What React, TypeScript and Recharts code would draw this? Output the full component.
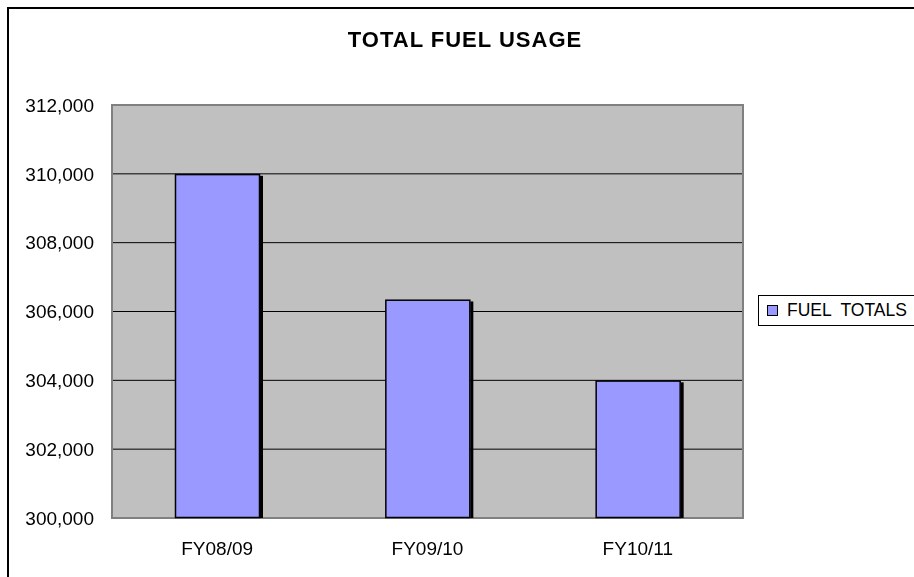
import React from 'react';
import {
  BarChart,
  Bar,
  XAxis,
  YAxis,
  CartesianGrid,
  Legend,
  ReferenceArea
} from 'recharts';

const categories = ['FY08/09', 'FY09/10', 'FY10/11'];
const fuelTotals = [310000, 306350, 304000];
const yTicks = [300000, 302000, 304000, 306000, 308000, 310000, 312000];

const FONT = '"Liberation Sans", Arial, sans-serif';

const chartData = categories.map((name, i) => ({ name, total: fuelTotals[i] }));

// bar with black outline and a heavier shadow on the right, like the old excel look
const BarShape = (props: any) => {
  const { x, y, width, height } = props;
  return (
    <g>
      <rect x={x + width} y={y + 2} width={3} height={height - 2} fill="#000" />
      <rect
        x={x + 0.5}
        y={y + 0.75}
        width={width - 1}
        height={height - 1.25}
        fill="#9999ff"
        stroke="#000"
        strokeWidth={1.5}
      />
    </g>
  );
};

const LegendBox = () => (
  <div
    style={{
      border: '1px solid #000',
      height: 29,
      width: 200,
      minWidth: 200,
      display: 'flex',
      alignItems: 'center',
      fontFamily: FONT,
      fontSize: 17.5,
      color: '#000',
      background: '#fff'
    }}
  >
    <span
      style={{
        display: 'inline-block',
        flexShrink: 0,
        width: 9,
        height: 9,
        background: '#9999ff',
        border: '1px solid #000',
        marginLeft: 8,
        marginRight: 9
      }}
    />
    <span style={{ whiteSpace: 'pre' }}>FUEL  TOTALS</span>
  </div>
);

export default function App() {
  return (
    <div
      style={{
        position: 'fixed',
        left: 7,
        top: 7,
        width: 905,
        height: 568,
        borderLeft: '2px solid #000',
        borderTop: '2px solid #000',
        overflow: 'hidden'
      }}
    >
      <div
        style={{
          position: 'absolute',
          left: 256,
          top: 20,
          width: 400,
          textAlign: 'center',
          fontFamily: FONT,
          fontWeight: 'bold',
          fontSize: 22,
          lineHeight: '22px',
          letterSpacing: 1
        }}
      >
        TOTAL FUEL USAGE
      </div>
      <BarChart
        width={905}
        height={568}
        data={chartData}
        margin={{ top: 96, right: 171, bottom: 29, left: 0 }}
      >
        <CartesianGrid vertical={false} stroke="#000" fill="#c0c0c0" fillOpacity={1} />
        <XAxis
          dataKey="name"
          height={30}
          axisLine={false}
          tickLine={false}
          tickSize={6}
          tickMargin={18}
          tick={{ fontSize: 19, fill: '#000', fontFamily: FONT }}
        />
        <YAxis
          width={103}
          domain={[300000, 312000]}
          ticks={yTicks}
          interval={0}
          axisLine={false}
          tickLine={false}
          tickSize={6}
          tickMargin={12}
          tickFormatter={(v: number) => v.toLocaleString('en-US')}
          tick={{ fontSize: 19, fill: '#000', fontFamily: FONT }}
        />
        <ReferenceArea
          y1={300000}
          y2={312000}
          fill="none"
          stroke="#808080"
          strokeWidth={2}
          ifOverflow="visible"
        />
        <Bar
          dataKey="total"
          name="FUEL  TOTALS"
          barSize={85}
          shape={<BarShape />}
          isAnimationActive={false}
        />
        <Legend
          layout="vertical"
          align="center"
          verticalAlign="middle"
          content={<LegendBox />}
          wrapperStyle={{ left: 749, top: 286, width: 210 }}
        />
      </BarChart>
    </div>
  );
}
